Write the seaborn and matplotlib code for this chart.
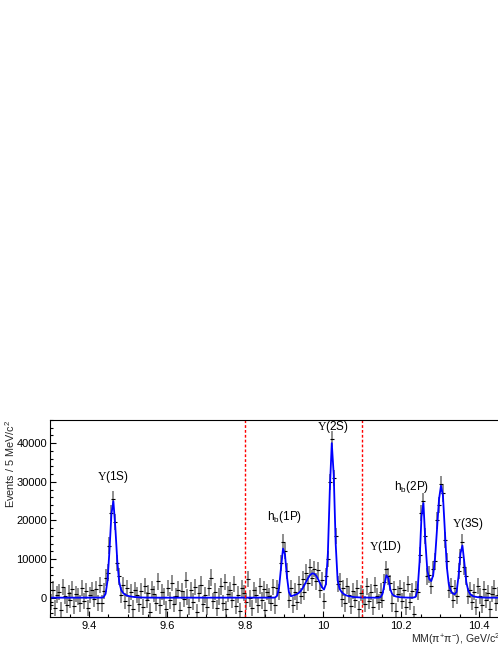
import numpy as np
import pandas as pd
import seaborn as sns
import matplotlib.pyplot as plt
from matplotlib.ticker import MultipleLocator, FuncFormatter

# 5 MeV bins starting at 9.300 GeV
bin_start = 9.3
bin_width = 0.005

# measured events per bin (background subtracted)
events = [
    -1200, 2100, -2600, 800, 1500, -3100, 2700, 400, -1800, 1300,
    -600, 2300, -2200, 1000, 300, -1500, 2600, -900, 1700, -2700,
    600, 1900, -300, 2200, -1400, 3200,
    -1500, 1800, 5200, 6500, 13500, 22000, 25500, 19500, 9000, 5500,
    600, 3200, -800, 2400, -1900, 1500, -2800, 2000, 600, -1600,
    1800, -2400, 3000, -500, 1200, -3600, 2200, 900, -1300, 4200,
    -2000, 1400, 300, -2900, 2600, -700, 3800, -1600, 500, 2100,
    -3300, 1700, -400, 4500, 200, -2500, 1900, -1000, 2800, -3800,
    1100, 3400, -1700, 600, -2300, 2500, 5200, -900, 1600, -2700,
    300, 2900, -1400, 4000, -3000, 1000, 2000, -600, 3600, -2100,
    800, -3500, 2400, 1200, -1100, 4800, -200, -2600, 1900, 600,
    -1800, 3100, -700, 2200, -3200, 1500, 400, -1300, 2700, -2000,
    2500, 1500, 9000, 14500, 12000, 7000, -500, 2500, -1800, 1600,
    -1000, 3500, 500, 4800, 1500, 6500, 3800, 8000, 5000, 7500,
    4200, 7200, 2000, 4500,
    -800, 5500, 10000, 30000, 41000, 31000, 16000, 3500, 4200, -300, 2500,
    -1500, 3000, 600, -2200, 1800, -600, 2400, -3000, 1200, 200,
    -1700, 2900, -800, 1500, -2500, 3300, 500, -1200,
    1600, -500, 4000, 7500, 5500, 3800, -1500, 2200, -3500, 1000, 2600, -800,
    2000, -2400, 3600, -1000, 1800, -4200, 2300,
    1500, 11000, 22000, 25000, 16000, 5500, 6000,
    3000, 7500, 9500, 20000, 24000, 29500, 27000, 15000, 9500, 2000,
    3000, -500, 2500, 500, 7000, 10500, 14500, 8000, 5500, 500,
    2000, -1200, 1500, -2500, 3000, 400, -1800, 2200, -600, 1300,
    -3000, 900, 2400, -1400, 600,
]

# fitted signal curve per bin
fit = [
    0, 0, 0, 0, 0, 0, 0, 0, 0, 0, 0, 0, 0, 0, 0, 0, 0, 0, 0, 0, 0, 0, 0, 0, 0, 0,
    15, 150, 1000, 4400, 12200, 21700, 25000, 18200, 9500, 4000,
    2000, 1200, 800, 550, 400, 300, 220, 160, 120, 90,
    60, 40, 30, 20, 10,
    0, 0, 0, 0, 0, 0, 0, 0, 0, 0, 0, 0, 0, 0, 0, 0, 0, 0, 0, 0, 0,
    0, 0, 0, 0, 0, 0, 0, 0, 0, 0, 0, 0, 0, 0, 0, 0, 0, 0, 0, 0, 0,
    0, 0, 0, 0, 0, 0, 0, 0, 0, 0, 0, 0, 0, 0, 0, 0, 0, 0, 0, 0, 0,
    10, 60,
    520, 2730, 7900, 12700, 11200, 5500, 1500, 400, 500, 700,
    900, 1200, 1700, 2400, 3300, 4300, 5200, 5900, 6300, 6200,
    5700, 4800, 3700, 2700,
    2100, 3500, 11500, 28000, 40000, 31800, 14000, 4500, 2300, 1500, 1000,
    700, 500, 350, 250, 180, 130, 100, 70, 50, 40, 30, 20, 10, 0, 0, 0, 0, 10,
    140, 950, 3350, 5800, 5060, 2200, 900, 500, 300, 200, 120, 80,
    50, 30, 20, 10, 0, 50, 220,
    2000, 9200, 21000, 24500, 14500, 7000, 4800,
    4300, 5800, 10500, 18000, 25500, 29000, 26500, 17000, 8000, 3500,
    1800, 1100, 900, 1500, 5500, 11500, 13500, 9000, 4000, 1800,
    900, 500, 300, 200, 120, 80, 50, 30, 20, 10, 0, 0, 0, 0, 0,
]

event_error = 2100

peak_names = [r'$\mathcal{\Upsilon}$(1S)', r'h$_{\rm b}$(1P)', r'$\mathcal{\Upsilon}$(2S)',
              r'$\mathcal{\Upsilon}$(1D)', r'h$_{\rm b}$(2P)', r'$\mathcal{\Upsilon}$(3S)']
label_x = [9.4615, 9.9026, 10.0256, 10.159, 10.228, 10.372]
label_y = [31200, 20800, 44300, 13000, 28600, 19000]

cuts = [9.8, 10.1]

df = pd.DataFrame({'events': events, 'fit': fit})
df['mass'] = bin_start + bin_width * (np.arange(len(df)) + 0.5)

sns.set_theme(style='ticks')
plt.rcParams['font.family'] = ['Liberation Sans', 'DejaVu Sans']
plt.rcParams['mathtext.fontset'] = 'custom'
plt.rcParams['mathtext.rm'] = 'Liberation Sans'
plt.rcParams['mathtext.it'] = 'Liberation Sans:italic'
plt.rcParams['mathtext.cal'] = 'Liberation Serif'

fig = plt.figure(figsize=(4.98, 6.45), dpi=100)
ax = fig.add_axes([50/498, 28/645, 468/498, 197/645])

ax.errorbar(df['mass'], df['events'], yerr=event_error, fmt='none',
            ecolor='#222222', elinewidth=1.1, alpha=0.65)
ax.plot(df['mass'], df['events'], ls='none', marker='_', ms=2.5,
        color='black', mew=0.8)
sns.lineplot(data=df, x='mass', y='fit', ax=ax, color='blue', lw=1.3)

for c in cuts:
    ax.axvline(c, color='red', ls=(0, (2, 1.5)), lw=1)

for name, x, y in zip(peak_names, label_x, label_y):
    ax.text(x, y, name, ha='center', va='center', fontsize=8.5, color='black')

ax.set_xlim(9.3, 10.5)
ax.set_ylim(-5000, 46000)
ax.xaxis.set_major_locator(MultipleLocator(0.2))
ax.xaxis.set_minor_locator(MultipleLocator(0.05))
ax.yaxis.set_major_locator(MultipleLocator(10000))
ax.yaxis.set_minor_locator(MultipleLocator(2000))
ax.xaxis.set_major_formatter(FuncFormatter(lambda v, p: '%g' % round(v, 3)))
ax.yaxis.set_major_formatter(FuncFormatter(lambda v, p: '%d' % v))
ax.tick_params(which='both', direction='in', labelsize=8, colors='black')
ax.tick_params(which='major', length=4, width=0.8)
ax.tick_params(which='minor', length=2, width=0.8)
ax.tick_params(axis='x', pad=3)
ax.tick_params(axis='y', pad=2)
for s in ax.spines.values():
    s.set_linewidth(0.8)
    s.set_color('black')

ax.set_xlabel('MM(π$^{+}$π$^{-}$), GeV/c$^{2}$', loc='right', fontsize=7.6)
ax.xaxis.set_label_coords(0.963, -0.072)
ax.set_ylabel('Events / 5 MeV/c$^{2}$', loc='top', fontsize=7.8)
ax.yaxis.set_label_coords(-0.07, 1.0)

fig.savefig('out.png', dpi=100)
